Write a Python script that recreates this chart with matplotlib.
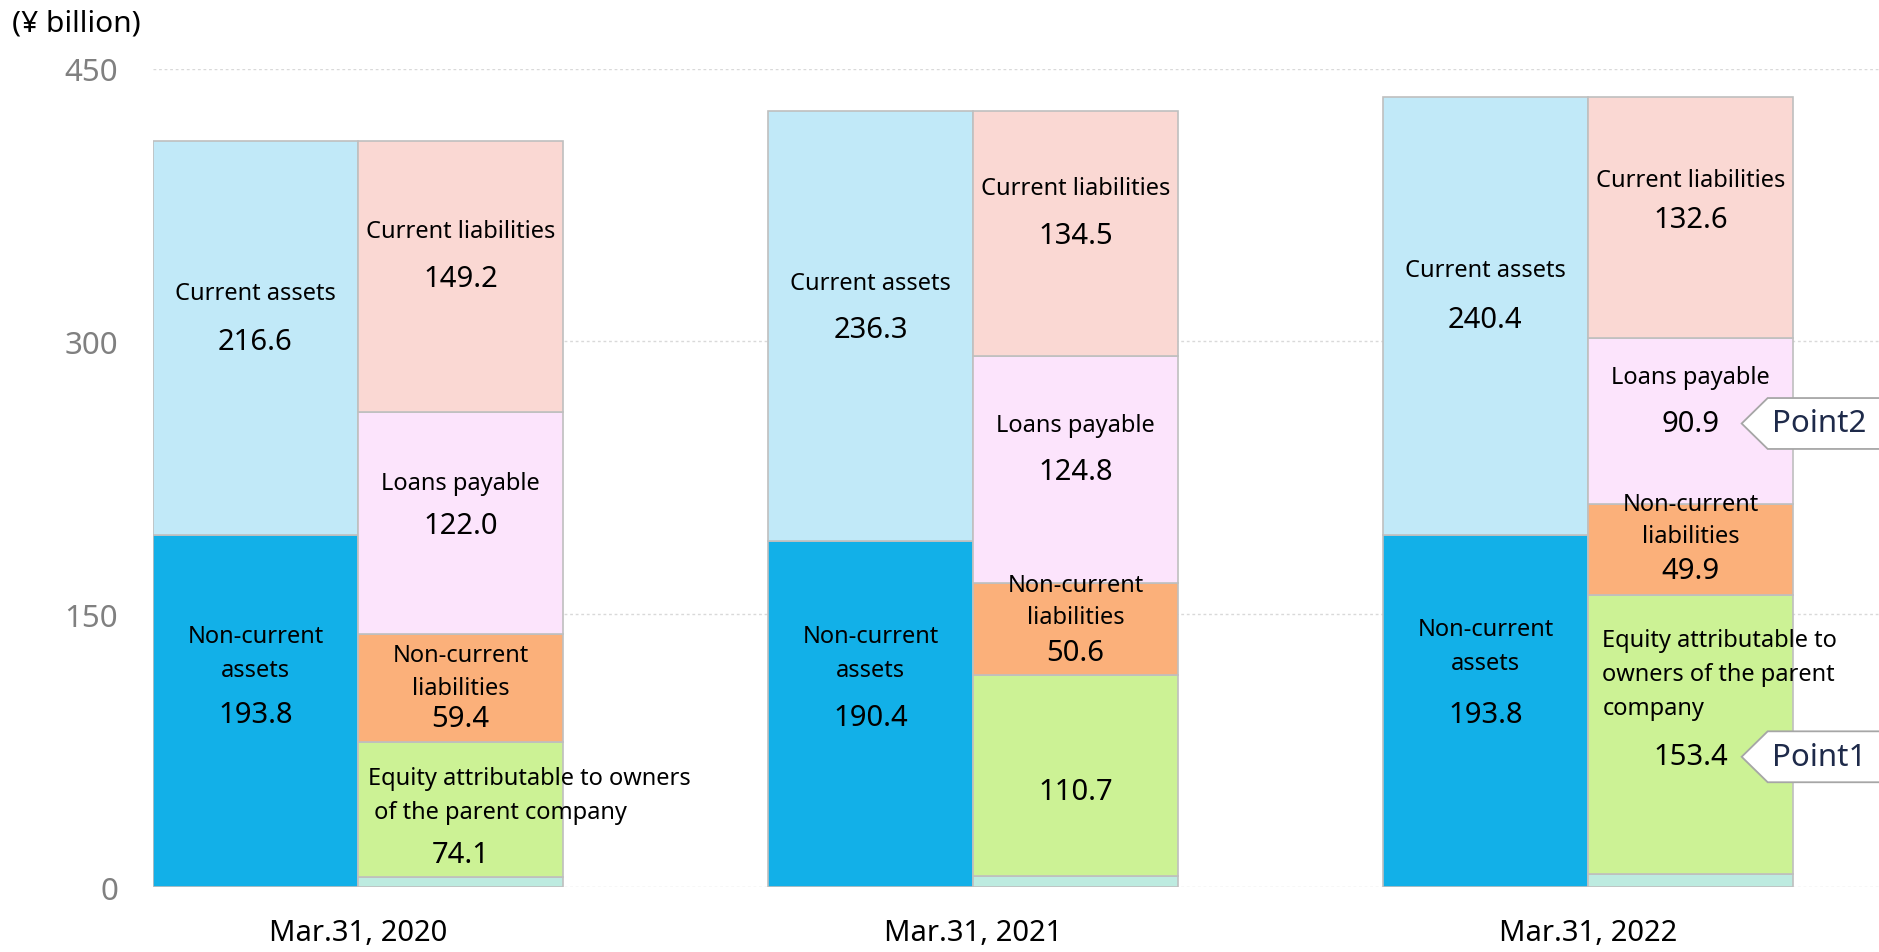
import numpy as np
import matplotlib.pyplot as plt
from matplotlib.patches import Polygon

plt.rcParams['font.family'] = ['Noto Sans', 'DejaVu Sans']

dates = ["Mar.31, 2020", "Mar.31, 2021", "Mar.31, 2022"]

# assets side
noncurrent_assets = [193.8, 190.4, 193.8]
current_assets = [216.6, 236.3, 240.4]

# liabilities and net assets side
non_controlling = [5.7, 6.1, 7.4]
equity = [74.1, 110.7, 153.4]
noncurrent_liab = [59.4, 50.6, 49.9]
loans_payable = [122.0, 124.8, 90.9]
current_liab = [149.2, 134.5, 132.6]

c_nca = "#12B0E8"
c_ca = "#C1E9F8"
c_nci = "#BDEBE0"
c_eq = "#CCF295"
c_ncl = "#FBB07A"
c_loan = "#FCE4FC"
c_cl = "#FAD8D3"
edge = "#BFBFBF"

fig = plt.figure(figsize=(18.79, 9.53), dpi=100)
ax = fig.add_axes([0.0814, 0.0682, 0.9186, 0.8588])

x = np.arange(len(dates)) * 3.0
xa = x - 0.5
xl = x + 0.5
w = 1.0

# assets bars
ax.bar(xa, noncurrent_assets, w, color=c_nca, edgecolor=edge, linewidth=1.2, zorder=2)
ax.bar(xa, current_assets, w, bottom=noncurrent_assets, color=c_ca,
       edgecolor=edge, linewidth=1.2, zorder=2)

# liabilities bars
stack = [non_controlling, equity, noncurrent_liab, loans_payable, current_liab]
colors = [c_nci, c_eq, c_ncl, c_loan, c_cl]
bottoms = np.zeros(len(dates))
seg_bottoms = []
for vals, col in zip(stack, colors):
    ax.bar(xl, vals, w, bottom=bottoms, color=col, edgecolor=edge, linewidth=1.2, zorder=2)
    seg_bottoms.append(bottoms.copy())
    bottoms = bottoms + np.array(vals)

name_fs = 17
val_fs = 21


def seg_text(xc, bottom, height, name, value, name_dy, val_dy, ls=1.55,
             left=None):
    yc = bottom + height / 2
    if name:
        if left is None:
            ax.text(xc, yc + name_dy, name, ha='center', va='center',
                    fontsize=name_fs, linespacing=ls, zorder=4)
        else:
            ax.text(left, yc + name_dy, name, ha='left', va='center',
                    fontsize=name_fs, linespacing=ls, zorder=4)
    ax.text(xc, yc + val_dy, f"{value:.1f}", ha='center', va='center',
            fontsize=val_fs, zorder=4)


nca_name_dy = [32, 33.5, 35.5]
ca_name_dy = [24.5, 23.7, 25]
ncl_name_dy = [9, 15, 16]
ncl_val_dy = [-17, -13, -12]
eq_names = ["Equity attributable to owners\n of the parent company", "",
            "Equity attributable to\nowners of the parent\ncompany"]
eq_name_dy = [8, 0, 33]
eq_val_dy = [-25, -9, -12.5]
loan_name_dy = [22, 24, 24]
cl_name_dy = [25, 25, 21]

for i in range(len(dates)):
    seg_text(xa[i], 0, noncurrent_assets[i], "Non-current\nassets",
             noncurrent_assets[i], nca_name_dy[i], -2)
    seg_text(xa[i], noncurrent_assets[i], current_assets[i], "Current assets",
             current_assets[i], ca_name_dy[i], -2)
    seg_text(xl[i], seg_bottoms[1][i], equity[i], eq_names[i], equity[i],
             eq_name_dy[i], eq_val_dy[i], left=xl[i] - 0.5 + (0.05 if i == 0 else 0.07))
    seg_text(xl[i], seg_bottoms[2][i], noncurrent_liab[i], "Non-current\nliabilities",
             noncurrent_liab[i], ncl_name_dy[i], ncl_val_dy[i], ls=1.45)
    seg_text(xl[i], seg_bottoms[3][i], loans_payable[i], "Loans payable",
             loans_payable[i], loan_name_dy[i], -1.3)
    seg_text(xl[i], seg_bottoms[4][i], current_liab[i], "Current liabilities",
             current_liab[i], cl_name_dy[i], -1)

# callouts on the last year's equity and loans payable
last = len(dates) - 1


def callout(y, label):
    tip = xl[last] + 0.25
    h = 14
    pts = [(tip, y), (tip + 0.127, y + h), (tip + 2.0, y + h),
           (tip + 2.0, y - h), (tip + 0.127, y - h)]
    ax.add_patch(Polygon(pts, closed=True, facecolor='white', edgecolor='#A6A6A6',
                         linewidth=1.3, zorder=5))
    ax.text(tip + 0.38, y, label, ha='center', va='center', fontsize=22.5,
            color='#1E2A4A', zorder=6)


callout(seg_bottoms[1][last] + equity[last] / 2 - 12.5, "Point1")
callout(seg_bottoms[3][last] + loans_payable[last] / 2 - 1.3, "Point2")

ax.set_xlim(-1, 7.42)
ax.set_ylim(0, 450)
ax.set_yticks([0, 150, 300, 450])
ax.set_xticks(x)
ax.set_xticklabels(dates, fontsize=21)
ax.tick_params(axis='y', length=0, pad=25, labelsize=22.5, labelcolor='#808080')
ax.tick_params(axis='x', length=0, pad=22)
ax.grid(axis='y', linestyle=(0, (2, 2)), color='#D9D9D9', linewidth=1, zorder=0)
ax.set_axisbelow(True)
for s in ax.spines.values():
    s.set_visible(False)

fig.text(12 / 1879, 1 - 24 / 953, "(¥ billion)", ha='left', va='center', fontsize=21.5)

fig.savefig("out.png", dpi=100)
